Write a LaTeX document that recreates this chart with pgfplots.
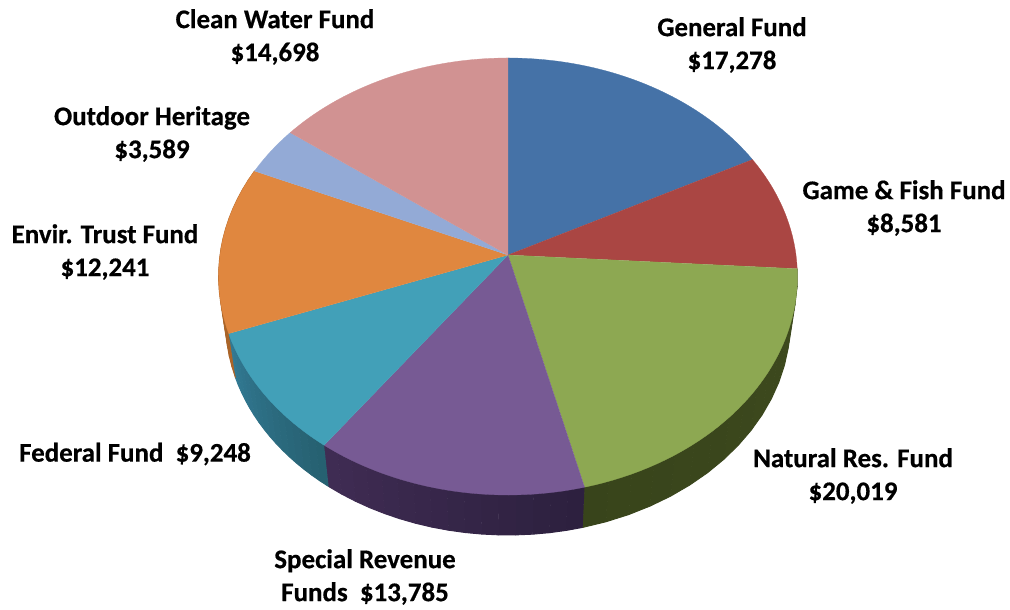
\documentclass[border=0pt]{standalone}
\usepackage{fontspec}
\setmainfont[BoldFeatures={FakeBold=0.5}]{Carlito}
\usepackage{pgfplots}
\pgfplotsset{compat=1.18}

% Fund amounts in thousands of dollars
\def\fundtotal{99.439}
\def\fundlist{17.278/fundblue,8.581/fundred,20.019/fundgreen,13.785/fundpurple,9.248/fundteal,12.241/fundorange,3.589/fundsky,14.698/fundpink}

\definecolor{fundblue}{RGB}{69,114,167}
\definecolor{fundred}{RGB}{170,70,67}
\definecolor{fundgreen}{RGB}{141,168,82}
\definecolor{fundpurple}{RGB}{119,90,148}
\definecolor{fundteal}{RGB}{66,160,184}
\definecolor{fundorange}{RGB}{224,135,63}
\definecolor{fundsky}{RGB}{147,170,214}
\definecolor{fundpink}{RGB}{209,146,146}
\definecolor{wallgreenA}{RGB}{62,74,30}
\definecolor{wallgreenB}{RGB}{56,68,27}
\definecolor{wallpurpleA}{RGB}{44,32,62}
\definecolor{wallpurpleB}{RGB}{64,44,84}
\definecolor{walltealA}{RGB}{38,96,112}
\definecolor{walltealB}{RGB}{50,122,148}
\definecolor{wallorange}{RGB}{170,100,40}

% Point on a tilted disc rim seen in perspective: #1 angle, #2 half width,
% #3 depth scale, #4 row of the disc centre
\newcommand{\rimxy}[4]{%
  \pgfmathsetmacro\rx{508+#2*sin(#1)/(1+0.0984*cos(#1))}%
  \pgfmathsetmacro\ry{#4-#3*cos(#1)/(1+0.0984*cos(#1))}%
}

% Side wall between two angles, shaded in narrow bands
\newcommand{\wallband}[4]{%
  \pgfplotsforeachungrouped \s in {1,...,16}{%
    \pgfmathsetmacro\ta{#1+(#2-#1)*(\s-1)/16}%
    \pgfmathsetmacro\tb{#1+(#2-#1)*\s/16}%
    \pgfmathtruncatemacro\mix{100*(\s-0.5)/16}%
    \rimxy{\ta}{288}{216.4}{255}\edef\pa{(\rx,\ry)}%
    \rimxy{\tb}{288}{216.4}{255}\edef\pb{(\rx,\ry)}%
    \rimxy{\tb}{281}{211}{301}\edef\pc{(\rx,\ry)}%
    \rimxy{\ta}{281}{211}{301}\edef\pd{(\rx,\ry)}%
    \edef\temp{\noexpand\addplot[fill=#4!\mix!#3,draw=#4!\mix!#3,line width=0.7pt,line join=round,mark=none]
      coordinates {\pa\pb\pc\pd};}\temp
  }%
}

\begin{document}
\begin{tikzpicture}
\begin{axis}[
  width=757.5pt, height=454.5pt, scale only axis,
  xmin=0, xmax=1010, ymin=0, ymax=606, y dir=reverse,
  axis lines=none, clip=false,
  nodes={font=\fontsize{20.2}{24.75}\selectfont\bfseries, align=center, text=black},
]
  % Keeps the page the size of the whole plotting area
  \path (axis cs:0,0) rectangle (axis cs:1010,606);

  % Side walls of the front half of the disc
  \pgfmathsetmacro\angB{(17.278+8.581)/\fundtotal*360}
  \pgfmathsetmacro\angC{(17.278+8.581+20.019)/\fundtotal*360}
  \pgfmathsetmacro\angD{(17.278+8.581+20.019+13.785)/\fundtotal*360}
  \pgfmathsetmacro\angE{(17.278+8.581+20.019+13.785+9.248)/\fundtotal*360}
  \pgfmathsetmacro\angF{(17.278+8.581+20.019+13.785+9.248+12.241)/\fundtotal*360}
  \wallband{\angB}{\angC}{wallgreenA}{wallgreenB}
  \wallband{\angC}{\angD}{wallpurpleA}{wallpurpleB}
  \wallband{\angD}{\angE}{walltealA}{walltealB}
  \wallband{\angE}{\angF}{wallorange}{wallorange}

  % Top face: one wedge per fund, its angle taken from the amount
  \xdef\cum{0}
  \foreach \val/\col in \fundlist {
    \pgfmathsetmacro\aStart{\cum/\fundtotal*360}
    \pgfmathsetmacro\newcum{\cum+\val}
    \xdef\cum{\newcum}
    \pgfmathsetmacro\aEnd{\cum/\fundtotal*360}
    \edef\pts{(508,255)}
    \pgfplotsforeachungrouped \s in {0,...,40}{%
      \pgfmathsetmacro\t{\aStart+(\aEnd-\aStart)*\s/40}%
      \rimxy{\t}{288}{216.4}{255}%
      \edef\pts{\pts(\rx,\ry)}%
    }
    \edef\temp{\noexpand\addplot[fill=\col,draw=\col,line width=0.2pt,mark=none]
      coordinates {\pts};}\temp
  }

  % Fund labels
  \node at (axis cs:732,45) {General Fund\\\$17,278};
  \node at (axis cs:904,208) {Game \& Fish Fund\\\$8,581};
  \node at (axis cs:853,476) {Natural Res. Fund\\\$20,019};
  \node at (axis cs:365,577) {Special Revenue\\Funds\ \ \$13,785};
  \node at (axis cs:135,454) {Federal Fund\ \ \$9,248};
  \node at (axis cs:105,252) {Envir. Trust Fund\\\$12,241};
  \node at (axis cs:152,134) {Outdoor Heritage\\\$3,589};
  \node at (axis cs:275,37) {Clean Water Fund\\\$14,698};
\end{axis}
\end{tikzpicture}
\end{document}
